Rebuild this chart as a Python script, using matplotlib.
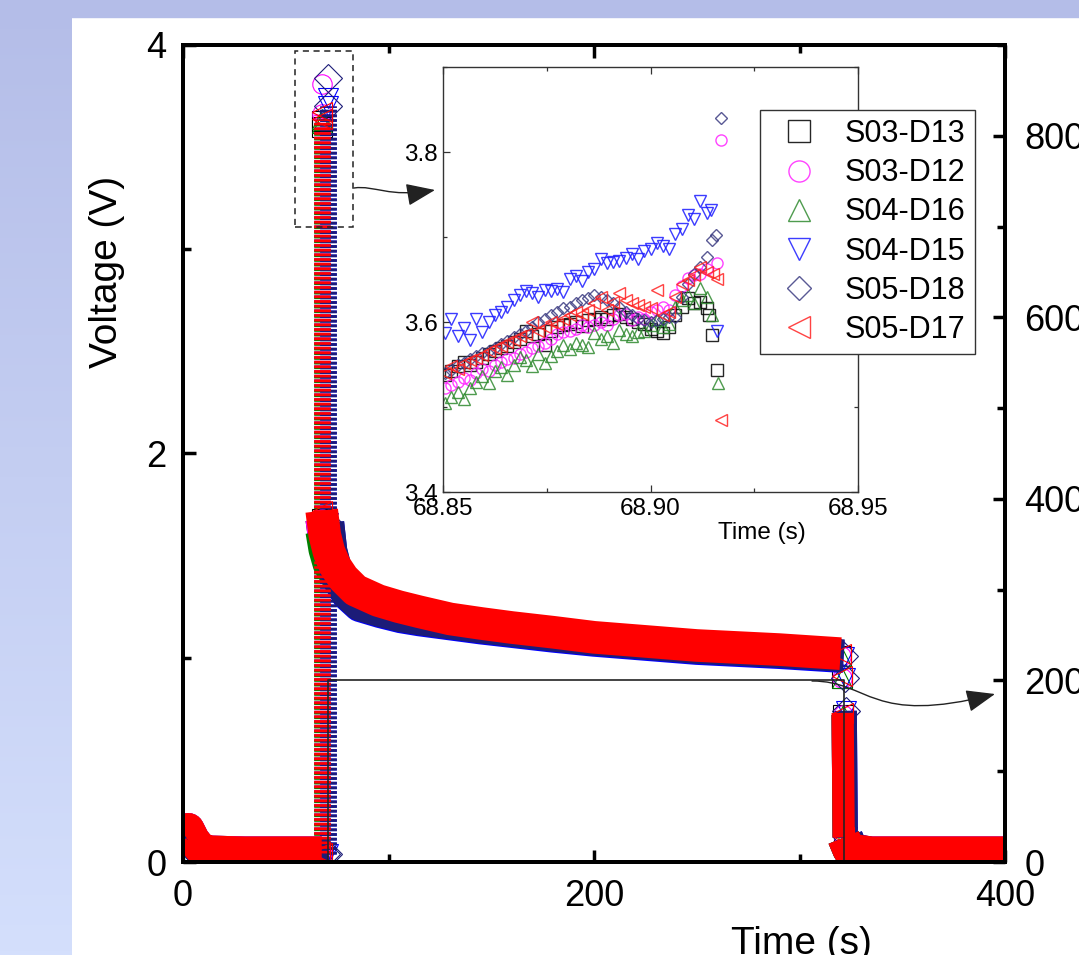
import matplotlib
matplotlib.use("Agg")
import matplotlib.pyplot as plt
import numpy as np
from matplotlib.patches import Rectangle, FancyArrowPatch
from matplotlib.path import Path
from matplotlib.ticker import MultipleLocator, FormatStrFormatter
from matplotlib.colors import LinearSegmentedColormap

plt.rcParams['font.family'] = ['Liberation Sans', 'DejaVu Sans']

W, H = 1079, 955

labels = ['S03-D13', 'S03-D12', 'S04-D16', 'S04-D15', 'S05-D18', 'S05-D17']
markers = ['s', 'o', '^', 'v', 'D', '<']
colors_main = ['#000000', '#ff00ff', '#008000', '#0000ff', '#1c1c78', '#ff0000']
colors_inset = ['#000000', '#ff22ff', '#2f8a2f', '#1a1aff', '#3c3c82', '#ff2222']

# ---- main traces (time in s, voltage in V) ----
t_main_a = [0, 2.5, 5, 8, 12, 30, 66.5, 67.5, 67.5, 67.5, 67.5, 69, 71, 74, 78, 84, 95,
            105, 115, 130, 145, 160, 180, 200, 225, 250, 290, 320, 320.6, 321, 321.5, 324,
            335, 370, 400]
t_main_b = [0, 2.5, 5, 8, 12, 30, 69.5, 70.5, 70.5, 70.5, 70.5, 72, 74, 76.5, 80, 86, 96,
            106, 115, 130, 145, 160, 180, 200, 225, 250, 290, 321.5, 322, 322.5, 323, 325.5,
            336, 370, 400]

v_d13 = [0.14, 0.16, 0.11, 0.07, 0.05, 0.045, 0.045, 0.045, 3.60, 3.63, 1.68, 1.57, 1.49,
         1.42, 1.37, 1.31, 1.27, 1.24, 1.215, 1.18, 1.158, 1.138, 1.115, 1.09, 1.07, 1.05,
         1.03, 1.01, 0.90, 0.72, 0.12, 0.06, 0.045, 0.045, 0.045]
v_d12 = [0.14, 0.16, 0.11, 0.07, 0.05, 0.045, 0.045, 0.045, 3.66, 3.81, 1.68, 1.57, 1.49,
         1.42, 1.37, 1.31, 1.27, 1.24, 1.215, 1.18, 1.158, 1.138, 1.115, 1.09, 1.07, 1.05,
         1.03, 1.01, 0.90, 0.72, 0.12, 0.06, 0.045, 0.045, 0.045]
v_d16 = [0.13, 0.15, 0.10, 0.065, 0.045, 0.04, 0.04, 0.04, 3.62, 3.64, 1.62, 1.53, 1.46,
         1.41, 1.35, 1.28, 1.24, 1.215, 1.195, 1.175, 1.155, 1.137, 1.115, 1.09, 1.07, 1.05,
         1.03, 1.01, 0.90, 0.72, 0.12, 0.06, 0.04, 0.04, 0.04]
v_d15 = [0.13, 0.15, 0.10, 0.065, 0.045, 0.04, 0.04, 0.04, 3.70, 3.74, 1.66, 1.52, 1.44,
         1.37, 1.31, 1.255, 1.225, 1.20, 1.185, 1.165, 1.145, 1.128, 1.105, 1.085, 1.065,
         1.045, 1.025, 1.005, 0.90, 0.74, 0.12, 0.06, 0.04, 0.04, 0.04]
v_d18 = [0.13, 0.15, 0.10, 0.065, 0.045, 0.04, 0.04, 0.04, 3.70, 3.84, 1.66, 1.525, 1.445,
         1.375, 1.315, 1.26, 1.23, 1.205, 1.19, 1.17, 1.15, 1.133, 1.11, 1.09, 1.07, 1.05,
         1.03, 1.01, 0.90, 0.74, 0.12, 0.06, 0.04, 0.04, 0.04]
v_d17 = [0.14, 0.16, 0.11, 0.07, 0.05, 0.045, 0.045, 0.045, 3.64, 3.67, 1.72, 1.60, 1.52,
         1.45, 1.39, 1.33, 1.28, 1.25, 1.225, 1.19, 1.168, 1.148, 1.125, 1.10, 1.08, 1.06,
         1.04, 1.02, 0.91, 0.73, 0.12, 0.06, 0.045, 0.045, 0.045]

main_times = [t_main_a, t_main_a, t_main_a, t_main_b, t_main_b, t_main_a]
main_volts = [v_d13, v_d12, v_d16, v_d15, v_d18, v_d17]

# current pulse on the right axis
t_current = [0, 70.7, 70.7, 321.5, 321.5, 400]
i_current = [0, 0, 200, 200, 0, 0]

# ---- inset (zoom on the pulse peak) ----
t_inset = [68.8505, 68.8520, 68.8535, 68.8550, 68.8565, 68.8580, 68.8595, 68.8610, 68.8625,
           68.8640, 68.8655, 68.8670, 68.8685, 68.8700, 68.8715, 68.8730, 68.8745, 68.8760,
           68.8775, 68.8790, 68.8805, 68.8820, 68.8835, 68.8850, 68.8865, 68.8880, 68.8895,
           68.8910, 68.8925, 68.8940, 68.8955, 68.8970, 68.8985, 68.9000, 68.9015, 68.9030,
           68.9045, 68.9060, 68.9075, 68.9090, 68.9105, 68.9120, 68.9135]

vin_d13 = [3.538, 3.542, 3.548, 3.553, 3.550, 3.553, 3.558, 3.562, 3.566, 3.570, 3.572, 3.576,
           3.580, 3.589, 3.584, 3.586, 3.573, 3.590, 3.594, 3.596, 3.598, 3.600, 3.595, 3.602,
           3.604, 3.606, 3.604, 3.608, 3.610, 3.606, 3.604, 3.600, 3.598, 3.592, 3.589, 3.587,
           3.594, 3.608, 3.618, 3.628, 3.622, 3.624, 3.616]
vin_d12 = [3.522, 3.526, 3.530, 3.534, 3.532, 3.540, 3.545, 3.542, 3.550, 3.553, 3.556, 3.558,
           3.562, 3.565, 3.569, 3.572, 3.575, 3.580, 3.586, 3.588, 3.590, 3.592, 3.596, 3.594,
           3.597, 3.600, 3.596, 3.604, 3.608, 3.610, 3.602, 3.606, 3.604, 3.612, 3.614, 3.618,
           3.614, 3.632, 3.642, 3.652, 3.655, 3.657, 3.662]
vin_d16 = [3.505, 3.512, 3.518, 3.510, 3.522, 3.530, 3.536, 3.528, 3.542, 3.547, 3.538, 3.549,
           3.559, 3.555, 3.548, 3.562, 3.552, 3.560, 3.566, 3.573, 3.568, 3.575, 3.573, 3.571,
           3.587, 3.580, 3.584, 3.575, 3.591, 3.586, 3.583, 3.588, 3.590, 3.596, 3.602, 3.594,
           3.598, 3.618, 3.626, 3.632, 3.622, 3.640, 3.630]
vin_d15 = [3.587, 3.604, 3.583, 3.593, 3.579, 3.604, 3.588, 3.600, 3.608, 3.612, 3.618, 3.626,
           3.632, 3.636, 3.634, 3.630, 3.638, 3.637, 3.639, 3.635, 3.651, 3.654, 3.648, 3.659,
           3.662, 3.674, 3.670, 3.671, 3.672, 3.675, 3.680, 3.674, 3.684, 3.686, 3.693, 3.690,
           3.686, 3.704, 3.710, 3.726, 3.721, 3.742, 3.728]
vin_d18 = [3.540, 3.544, 3.549, 3.552, 3.556, 3.560, 3.563, 3.566, 3.570, 3.574, 3.578, 3.582,
           3.586, 3.590, 3.594, 3.600, 3.604, 3.608, 3.612, 3.616, 3.618, 3.622, 3.626, 3.628,
           3.632, 3.630, 3.626, 3.622, 3.618, 3.612, 3.608, 3.604, 3.602, 3.600, 3.602, 3.604,
           3.606, 3.606, 3.630, 3.645, 3.657, 3.665, 3.677]
vin_d17 = [3.540, 3.548, 3.545, 3.552, 3.555, 3.558, 3.561, 3.566, 3.569, 3.572, 3.576, 3.579,
           3.583, 3.586, 3.600, 3.590, 3.594, 3.600, 3.598, 3.604, 3.608, 3.612, 3.610, 3.614,
           3.622, 3.630, 3.614, 3.624, 3.634, 3.626, 3.622, 3.620, 3.618, 3.616, 3.638, 3.608,
           3.612, 3.630, 3.645, 3.650, 3.655, 3.665, 3.659]

# last samples of each record (after 68.9135 s)
tail_t = [[68.9140, 68.9147, 68.9160], [68.9160, 68.9171], [68.9147, 68.9162],
          [68.9145, 68.9161], [68.9147, 68.9159, 68.9171], [68.9150, 68.9160, 68.9169]]
tail_v = [[3.608, 3.585, 3.544], [3.669, 3.814], [3.608, 3.528],
          [3.732, 3.589], [3.696, 3.702, 3.840], [3.657, 3.651, 3.485]]
inset_volts = [vin_d13, vin_d12, vin_d16, vin_d15, vin_d18, vin_d17]

# pieces of each main record
base_pre = slice(0, 8)
rise = slice(7, 9)
decay = slice(10, 28)
fall = slice(29, 31)
base_post = slice(30, 35)


def fpx(x, y):
    return (x / W, 1 - y / H)


fig = plt.figure(figsize=(W / 100, H / 100), dpi=100)
fig.patch.set_facecolor('white')

# slide-like background
bg = fig.add_axes([0, 0, 72 / W, 1])
grad = np.linspace(0, 1, 256).reshape(-1, 1)
bg.imshow(grad, aspect='auto', origin='lower', extent=[0, 1, 0, 1],
          cmap=LinearSegmentedColormap.from_list('bg', ['#d4dffc', '#b4bde8']))
bg.axis('off')
fig.add_artist(Rectangle((0, 1 - 17 / H), 1, 17 / H, transform=fig.transFigure,
                         color='#b4bde8', zorder=0))

ax = fig.add_axes([183 / W, 1 - 862 / H, 822 / W, 817 / H])
for t, v, c, m in zip(main_times, main_volts, colors_main, markers):
    t = np.array(t)
    v = np.array(v)
    for seg in (base_pre, decay, base_post):
        ax.plot(t[seg], v[seg], color=c, lw=23.5, solid_capstyle='butt', solid_joinstyle='round')
    ax.plot(t[fall], v[fall], color=c, lw=16, solid_capstyle='butt')
    ax.plot(t[rise], v[rise], color=c, lw=12, dashes=(0.16, 0.12), dash_capstyle='butt')
    ax.plot(t, v, ls='none', marker=m, ms=14, mfc='none', mec=c, mew=0.8)

ax.set_xlim(0, 400)
ax.set_ylim(0, 4)
ax.xaxis.set_major_locator(MultipleLocator(200))
ax.xaxis.set_minor_locator(MultipleLocator(100))
ax.yaxis.set_major_locator(MultipleLocator(2))
ax.yaxis.set_minor_locator(MultipleLocator(1))
ax.tick_params(which='both', direction='in', top=True, right=False, labelsize=26, pad=12, width=2.5)
ax.tick_params(which='major', length=9)
ax.tick_params(which='minor', length=6)
for s in ax.spines.values():
    s.set_linewidth(2.8)
ax.set_ylabel('Voltage (V)', fontsize=28)
ax.yaxis.set_label_coords(-0.07, 0.722)
ax.set_xlabel('Time (s)', fontsize=28)
ax.xaxis.set_label_coords(0.752, -0.078)

ax2 = ax.twinx()
ax2.plot(t_current, i_current, color='#222222', lw=1.2)
ax2.set_ylim(0, 900)
ax2.yaxis.set_major_locator(MultipleLocator(200))
ax2.yaxis.set_minor_locator(MultipleLocator(100))
ax2.tick_params(which='both', direction='in', labelsize=26, pad=14, width=2.5)
ax2.tick_params(which='major', length=9)
ax2.tick_params(which='minor', length=6)
for s in ax2.spines.values():
    s.set_linewidth(2.8)

# zoom box
ax.add_patch(Rectangle((54.6, 3.11), 28.3, 0.86, fill=False, ls=(0, (4, 3)), lw=1.1,
                       ec='#222222', zorder=6))

# inset
axin = fig.add_axes([443 / W, 1 - 492 / H, 415 / W, 425 / H])
handles = []
for tt, vv, v, c, m in zip(tail_t, tail_v, inset_volts, colors_inset, markers):
    ms = 6.5 if m == 'D' else 8
    h, = axin.plot(t_inset + tt, v + vv, ls='none', marker=m, ms=ms, mfc='none', mec=c,
                   mew=1.0, alpha=0.85)
    handles.append(h)
axin.set_xlim(68.85, 68.95)
axin.set_ylim(3.4, 3.9)
axin.xaxis.set_major_locator(MultipleLocator(0.05))
axin.xaxis.set_minor_locator(MultipleLocator(0.025))
axin.yaxis.set_major_locator(MultipleLocator(0.2))
axin.yaxis.set_minor_locator(MultipleLocator(0.1))
axin.xaxis.set_major_formatter(FormatStrFormatter('%.2f'))
axin.yaxis.set_major_formatter(FormatStrFormatter('%.1f'))
axin.tick_params(which='both', direction='in', top=True, right=True, labelsize=17.5,
                 pad=4, width=0.9, color='#333333')
axin.tick_params(which='major', length=5)
axin.tick_params(which='minor', length=3)
for s in axin.spines.values():
    s.set_linewidth(1.0)
    s.set_color('#333333')
axin.set_xlabel('Time (s)', fontsize=17.5)
axin.xaxis.set_label_coords(0.769, -0.071)

leg = axin.legend(handles, labels, loc='upper right', bbox_to_anchor=fpx(975, 110),
                  bbox_transform=fig.transFigure, fontsize=22, markerscale=1.9,
                  frameon=True, fancybox=False, edgecolor='#333333', framealpha=1,
                  borderpad=0.3, labelspacing=0.3, handlelength=2.0, handletextpad=0.5,
                  borderaxespad=0)
leg.get_frame().set_linewidth(1.0)

# arrows from the zoom box to the inset and from the current trace to its axis
codes = [Path.MOVETO, Path.CURVE4, Path.CURVE4, Path.CURVE4]
for verts in ([fpx(354, 188), fpx(375, 185), fpx(388, 198), fpx(435, 190)],
              [fpx(812, 681), fpx(870, 681), fpx(870, 726), fpx(995, 694)]):
    fig.add_artist(FancyArrowPatch(path=Path(verts, codes), transform=fig.transFigure,
                                   arrowstyle='-|>,head_length=0.9,head_width=0.35',
                                   mutation_scale=20, lw=1.0, color='#222222'))

fig.savefig('out.png', dpi=100)
